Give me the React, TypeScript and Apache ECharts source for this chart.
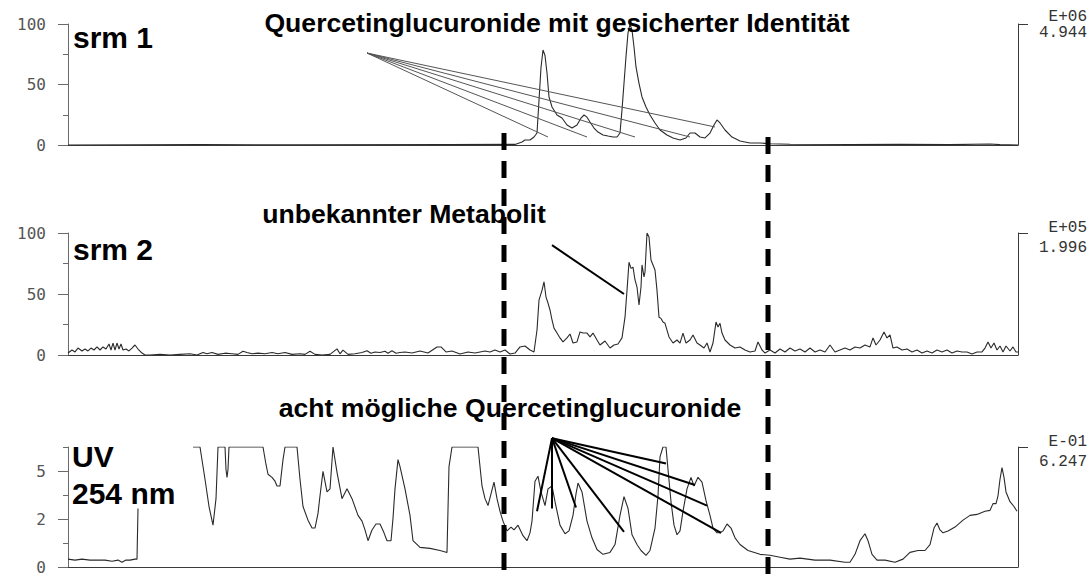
import React, { useEffect, useRef } from "react";
import * as echarts from "echarts";

// x = scan index along the run (0..950), y = relative intensity
const SCAN_MAX = 950;

const srm1Trace: [number, number][] = [
  [0, 0], [132, 0.3], [232, 0.2], [382, 0.3], [447, 0.5], [454, 2.5], [457, 4.1], [462, 4.1], [466, 6.6], [469, 9.9],
  [471, 37], [473, 64], [475, 78.5], [477, 74], [479, 59.5], [481, 39.7], [484, 31.4], [489, 24.8], [494, 22.3],
  [499, 16.5], [504, 14], [509, 16.5], [513, 22.3], [516, 24.8], [519, 23], [522, 19], [526, 14], [530, 10.7],
  [535, 8.3], [540, 7.4], [545, 6.6], [549, 6.6], [552, 9.9], [554, 29], [556, 51], [558, 73], [560, 92.6],
  [562, 100], [564, 95], [566, 81], [568, 64.5], [571, 51], [574, 39.7], [578, 31.4], [582, 24.8], [587, 18.2],
  [592, 12.4], [599, 8.3], [605, 5.8], [612, 4.1], [618, 5.8], [622, 9.9], [627, 9.9], [632, 6.6], [637, 5.8],
  [642, 9.9], [646, 16.5], [649, 20.7], [652, 18.2], [657, 12.4], [664, 6.6], [672, 3.3], [682, 1.7], [692, 1.7],
  [702, 1], [722, 0.6], [782, 0.4], [832, 0.5], [882, 0.3], [922, 0.8], [932, 0.3], [950, 0],
];

const srm2Trace: [number, number][] = [
  [0, 1.6], [4, 4.1], [7, 2.5], [10, 5.7], [14, 3.3], [17, 4.9], [20, 3.3], [23, 5.7], [26, 4.1], [29, 6.6],
  [32, 4.1], [35, 6.6], [38, 4.9], [41, 9], [43, 4.1], [45, 9.8], [47, 4.1], [49, 9.8], [51, 4.9], [53, 9],
  [55, 4.1], [58, 4.9], [61, 3.3], [64, 5.7], [67, 8.2], [70, 4.9], [74, 1.6], [77, 0], [82, 0], [92, 0.5],
  [102, 0], [112, 0.5], [122, 1], [129, 0], [135, 2], [139, 1], [144, 2], [150, 0.5], [157, 1.5], [164, 1],
  [170, 0.5], [175, 3], [179, 2], [184, 1], [190, 1.5], [197, 1], [204, 2], [210, 1], [217, 2], [224, 0.5],
  [232, 1], [237, 0.5], [242, 3], [247, 0.5], [254, 0], [262, 0.5], [269, 5], [272, 1], [275, 4], [280, 0.5],
  [287, 1], [294, 2], [299, 3.5], [303, 1.5], [307, 2.5], [312, 2], [317, 3], [320, 1.5], [324, 3.5], [328, 1.5],
  [332, 2], [337, 2.5], [344, 1.6], [352, 3.3], [360, 1.6], [369, 6.6], [373, 6.6], [378, 2.5], [384, 3.3],
  [392, 0.8], [400, 2.5], [407, 1.6], [417, 3.3], [422, 2.5], [427, 4.1], [432, 2.5], [437, 4.1], [442, 0.8],
  [447, 1.6], [452, 6.6], [457, 7.4], [462, 4.1], [466, 2.5], [469, 20.5], [471, 45], [474, 53], [476, 60],
  [478, 47.5], [480, 42.6], [482, 36.9], [484, 28.7], [486, 22], [489, 18], [492, 14], [495, 10.7], [499, 14],
  [502, 17.2], [505, 9.8], [509, 10.7], [512, 18.9], [515, 18], [519, 18], [522, 14.8], [525, 18], [529, 12.3],
  [532, 8.2], [537, 11.5], [542, 5.7], [546, 8.2], [550, 9], [554, 14], [557, 31], [559, 53], [561, 76],
  [563, 71], [565, 72], [567, 61.5], [569, 55.7], [571, 41], [573, 55.7], [574, 73.8], [576, 64], [577, 68],
  [579, 100], [581, 96.7], [583, 77.9], [585, 73.8], [587, 69.7], [589, 53], [591, 31], [593, 30], [595, 27],
  [597, 26], [601, 14.8], [605, 9.8], [609, 12.3], [612, 9.8], [615, 18], [618, 9.8], [622, 12.3], [625, 16.4],
  [629, 9.8], [632, 8.2], [636, 5.7], [639, 9.8], [642, 2.5], [645, 9.8], [648, 27], [650, 23], [652, 26],
  [654, 18], [657, 12.3], [662, 8.2], [667, 5.7], [672, 6.6], [677, 4.1], [682, 2.5], [687, 3.3], [690, 10.7],
  [694, 4.1], [697, 1.6], [702, 4.1], [707, 1.6], [712, 4.9], [717, 2.5], [722, 5.7], [727, 3.3], [732, 4.9],
  [737, 2.5], [742, 5.7], [747, 2.5], [752, 4.1], [757, 2.5], [762, 8.2], [767, 2.5], [772, 4.1], [777, 5.7],
  [782, 4.1], [787, 6.6], [792, 5.7], [797, 8.2], [802, 6.6], [805, 14], [808, 8.2], [812, 12.3], [816, 18.9],
  [819, 14], [822, 16.4], [825, 5.7], [829, 6.6], [834, 4.1], [839, 4.9], [844, 2.5], [849, 4.1], [854, 1.6],
  [859, 3.3], [864, 1.6], [869, 4.1], [874, 2.5], [879, 4.1], [884, 1.6], [889, 3.3], [894, 2.5], [899, 2.5],
  [904, 0.8], [909, 2.5], [914, 2.5], [917, 5.7], [920, 10.7], [923, 5.7], [926, 9.8], [929, 4.1], [932, 7.4],
  [935, 2.5], [938, 7.4], [942, 3.3], [945, 6.6], [948, 2.5], [950, 2.5],
];

const uvTrace: [number, number | null][] = [
  [0, 0.41], [7, 0.36], [14, 0.41], [22, 0.36], [30, 0.36], [37, 0.36], [44, 0.3], [50, 0.36], [54, 0.25],
  [58, 0.36], [62, 0.36], [67, 0.41], [69, 0.41], [70, 3.05], [71, null],
  [125, 6.25], [132, 6.25], [137, 4.57], [141, 3.15], [145, 2.18], [148, 3.56], [150, 6.25], [157, 6.25],
  [158, 5.08], [159, 4.67], [160, 5.08], [161, 6.25], [195, 6.25], [198, 5.34], [200, 4.83], [204, 4.67],
  [207, 4.47], [209, 4.22], [212, 4.22], [215, 5.59], [217, 6.25], [229, 6.25], [232, 4.57], [235, 3.15],
  [240, 2.44], [244, 2.03], [247, 2.03], [250, 2.79], [252, 3.71], [255, 4.98], [259, 3.91], [262, 4.07],
  [265, 6.25], [269, 4.93], [274, 3.56], [279, 4.07], [284, 3.56], [290, 2.69], [294, 2.39], [297, 1.93],
  [300, 1.37], [304, 1.93], [308, 2.24], [312, 2.24], [316, 1.78], [319, 1.37], [323, 1.37], [325, 2.54],
  [327, 4.07], [330, 5.59], [332, 5.23], [337, 4.07], [342, 2.69], [345, 1.37], [352, 1.02], [362, 0.97],
  [372, 0.86], [379, 0.76], [381, 5.23], [384, 6.25], [410, 6.25], [414, 4.22], [417, 3.56], [420, 3.2],
  [423, 3.81], [426, 4.42], [429, 3.56], [432, 2.9], [435, 2.39], [439, 1.88], [443, 2.08], [446, 1.93],
  [450, 2.18], [455, 1.63], [459, 1.37], [462, 1.78], [464, 2.39], [467, 4.47], [470, 4.73], [473, 3.91],
  [477, 3.2], [480, 4.07], [484, 4.22], [487, 3.4], [492, 2.18], [497, 1.73], [501, 1.88], [505, 2.69],
  [508, 3.81], [510, 4.37], [514, 3.91], [519, 2.39], [524, 1.52], [529, 0.91], [535, 0.66], [542, 0.76],
  [547, 1.17], [552, 2.69], [556, 3.66], [560, 3.05], [564, 1.68], [569, 1.17], [573, 0.86], [578, 0.61],
  [582, 0.86], [587, 2.03], [590, 3.71], [592, 5.74], [595, 6.25], [598, 6.25], [600, 5.08], [603, 3.4],
  [606, 2.18], [609, 1.68], [612, 1.88], [615, 2.9], [619, 4.07], [623, 4.67], [626, 4.22], [630, 4.67],
  [634, 4.42], [638, 3.46], [642, 2.69], [645, 2.03], [649, 1.78], [652, 1.78], [655, 1.88], [659, 2.24],
  [663, 2.03], [667, 1.52], [672, 1.17], [680, 0.86], [692, 0.66], [702, 0.61], [712, 0.51], [722, 0.41],
  [732, 0.46], [747, 0.36], [762, 0.36], [777, 0.25], [782, 0.25], [787, 0.66], [792, 1.37], [797, 1.73],
  [800, 1.37], [804, 0.66], [809, 0.36], [817, 0.36], [827, 0.25], [835, 0.41], [842, 0.76], [850, 0.86],
  [857, 0.86], [862, 1.17], [866, 2.03], [869, 2.29], [872, 1.93], [875, 1.78], [880, 1.88], [887, 2.08],
  [895, 2.44], [902, 2.69], [909, 2.74], [917, 2.9], [922, 2.95], [925, 3.3], [928, 3.3], [930, 3.71],
  [932, 4.57], [934, 5.18], [936, 4.67], [938, 3.91], [942, 3.4], [946, 3.15], [949, 2.9],
];

const panelMax = [100, 100, 6.25];
const panelNames = ["srm 1", "srm 2", "UV 254 nm"];
const scaleExponent = ["E+06", "E+05", "E-01"];
const scaleValue = ["4.944", "1.996", "6.247"];
const uvTickLabels = [0, 2.5, 5];

const annotationTitles = [
  "Quercetinglucuronide mit gesicherter Identität",
  "unbekannter Metabolit",
  "acht mögliche Quercetinglucuronide",
];
// annotation pointers in data coordinates [scan, value]
const srm1Origin: [number, number] = [299, 76];
const srm1Targets: [number, number][] = [[480, 6.6], [519, 6.6], [567, 6.6], [622, 6.6], [647, 14.9]];
const srm2Origin: [number, number] = [484, 90];
const srm2Targets: [number, number][] = [[556, 50]];
const uvOrigin: [number, number] = [484, 6.71];
const uvTargets: [number, number][] = [
  [469, 2.9], [484, 3.05], [508, 3.1], [556, 1.83], [598, 5.39], [627, 4.27], [639, 3.2], [653, 1.78],
];
const windowScans = [436, 700];

const GRID_TOPS = [24, 233, 447];
const GRID_HEIGHTS = [121, 122, 123];
const AXIS_GRAY = "#6a6a6a";

export default function App() {
  const ref = useRef<HTMLDivElement>(null);

  useEffect(() => {
    if (!ref.current) return;
    const chart = echarts.init(ref.current, null, { renderer: "svg" });

    const grids = GRID_TOPS.map((top, i) => ({ left: 68, right: 73, top, height: GRID_HEIGHTS[i] }));
    const xAxes = [0, 1, 2].map((i) => ({
      type: "value",
      gridIndex: i,
      min: 0,
      max: SCAN_MAX,
      axisLine: { show: true, onZero: false, lineStyle: { color: "#3a3a3a", width: 1 } },
      axisTick: { show: false },
      axisLabel: { show: false },
      splitLine: { show: false },
    }));

    const labelStyle = { color: "#555", fontFamily: "DejaVu Sans Mono", fontSize: 16, margin: 22 };
    const yAxes: any[] = [];
    const mainY: number[] = [];
    [0, 1].forEach((g) => {
      mainY.push(yAxes.length);
      yAxes.push({
        type: "value", gridIndex: g, position: "left", min: 0, max: panelMax[g], interval: 50,
        axisLine: { show: true, lineStyle: { color: AXIS_GRAY } },
        axisTick: { show: true, length: 10, lineStyle: { color: AXIS_GRAY } },
        minorTick: { show: true, splitNumber: 2, length: 5, lineStyle: { color: AXIS_GRAY } },
        axisLabel: labelStyle,
        splitLine: { show: false }, minorSplitLine: { show: false },
      });
    });
    mainY.push(yAxes.length);
    yAxes.push({
      type: "value", gridIndex: 2, position: "left", min: 0, max: panelMax[2], interval: 1.25,
      axisLine: { show: true, lineStyle: { color: AXIS_GRAY } },
      axisTick: { show: true, length: 5, lineStyle: { color: AXIS_GRAY } },
      axisLabel: {
        ...labelStyle,
        customValues: uvTickLabels,
        formatter: (v: number) => String(Math.floor(v)),
      },
      splitLine: { show: false },
    });
    yAxes.push({
      type: "value", gridIndex: 2, position: "left", min: 0, max: panelMax[2],
      axisLine: { show: false },
      axisTick: { show: true, length: 10, customValues: uvTickLabels, lineStyle: { color: AXIS_GRAY } },
      axisLabel: { show: false },
      splitLine: { show: false },
    });
    [0, 1, 2].forEach((g) => {
      yAxes.push({
        type: "value", gridIndex: g, position: "right", min: 0, max: panelMax[g],
        axisLine: { show: true, lineStyle: { color: "#3a3a3a" } },
        axisTick: { show: true, length: 10, customValues: [panelMax[g]], lineStyle: { color: "#3a3a3a" } },
        axisLabel: { show: false },
        splitLine: { show: false },
      });
    });

    const traces = [srm1Trace, srm2Trace, uvTrace];
    const series = traces.map((data, g) => ({
      type: "line",
      xAxisIndex: g,
      yAxisIndex: mainY[g],
      data,
      showSymbol: false,
      connectNulls: false,
      lineStyle: { color: "#2a2a2a", width: 1.1 },
      z: 3,
    }));

    chart.setOption({
      animation: false,
      backgroundColor: "#fff",
      grid: grids,
      xAxis: xAxes,
      yAxis: yAxes,
      series,
    });

    const px = (g: number, p: [number, number]) =>
      chart.convertToPixel({ xAxisIndex: g, yAxisIndex: mainY[g] }, p) as number[];

    const graphics: any[] = [];
    const fan = (g: number, origin: [number, number], targets: [number, number][], color: string, width: number) => {
      const o = px(g, origin);
      targets.forEach((t) => {
        const e = px(g, t);
        graphics.push({
          type: "line", z: 20,
          shape: { x1: o[0], y1: o[1], x2: e[0], y2: e[1] },
          style: { stroke: color, lineWidth: width },
        });
      });
    };
    fan(0, srm1Origin, srm1Targets, "#555", 1);
    fan(1, srm2Origin, srm2Targets, "#000", 2);
    fan(2, uvOrigin, uvTargets, "#000", 2);

    const boldText = (text: string, x: number, y: number, size: number, align: string) => ({
      type: "text", z: 30, x, y,
      style: {
        text, fill: "#000", font: `bold ${size}px "Liberation Sans", Arial, sans-serif`,
        align, verticalAlign: "middle",
      },
    });
    graphics.push(boldText(annotationTitles[0], 557, 23, 26.6, "center"));
    graphics.push(boldText(annotationTitles[1], 404, 214, 26.6, "center"));
    graphics.push(boldText(annotationTitles[2], 510, 408, 26.6, "center"));
    graphics.push(boldText(panelNames[0], 73, 37.5, 30, "left"));
    graphics.push(boldText(panelNames[1], 73, 249.5, 30, "left"));
    const uvParts = panelNames[2].split(" ");
    graphics.push(boldText(uvParts[0], 72, 456, 30, "left"));
    graphics.push(boldText(uvParts.slice(1).join(" "), 72, 493, 30, "left"));

    const scaleY = [[17, 33], [228, 248], [442, 462]];
    [0, 1, 2].forEach((g) => {
      [scaleExponent[g], scaleValue[g]].forEach((t, k) => {
        graphics.push({
          type: "text", z: 30, x: 1087, y: scaleY[g][k],
          style: { text: t, fill: "#333", font: '16px "Liberation Mono", "Courier New", monospace', align: "right", verticalAlign: "middle" },
        });
      });
    });

    const dashTops = [133, 137];
    windowScans.forEach((s, k) => {
      const x = px(0, [s, 0])[0];
      graphics.push({
        type: "line", z: 40,
        shape: { x1: x, y1: dashTops[k], x2: x, y2: 575 },
        style: { stroke: "#000", lineWidth: 5, lineDash: [17, 11] },
      });
    });

    chart.setOption({ graphic: graphics });

    return () => chart.dispose();
  }, []);

  return (
    <div
      ref={ref}
      style={{ position: "absolute", left: 0, top: 0, width: 1091, height: 575, background: "#fff" }}
    />
  );
}
